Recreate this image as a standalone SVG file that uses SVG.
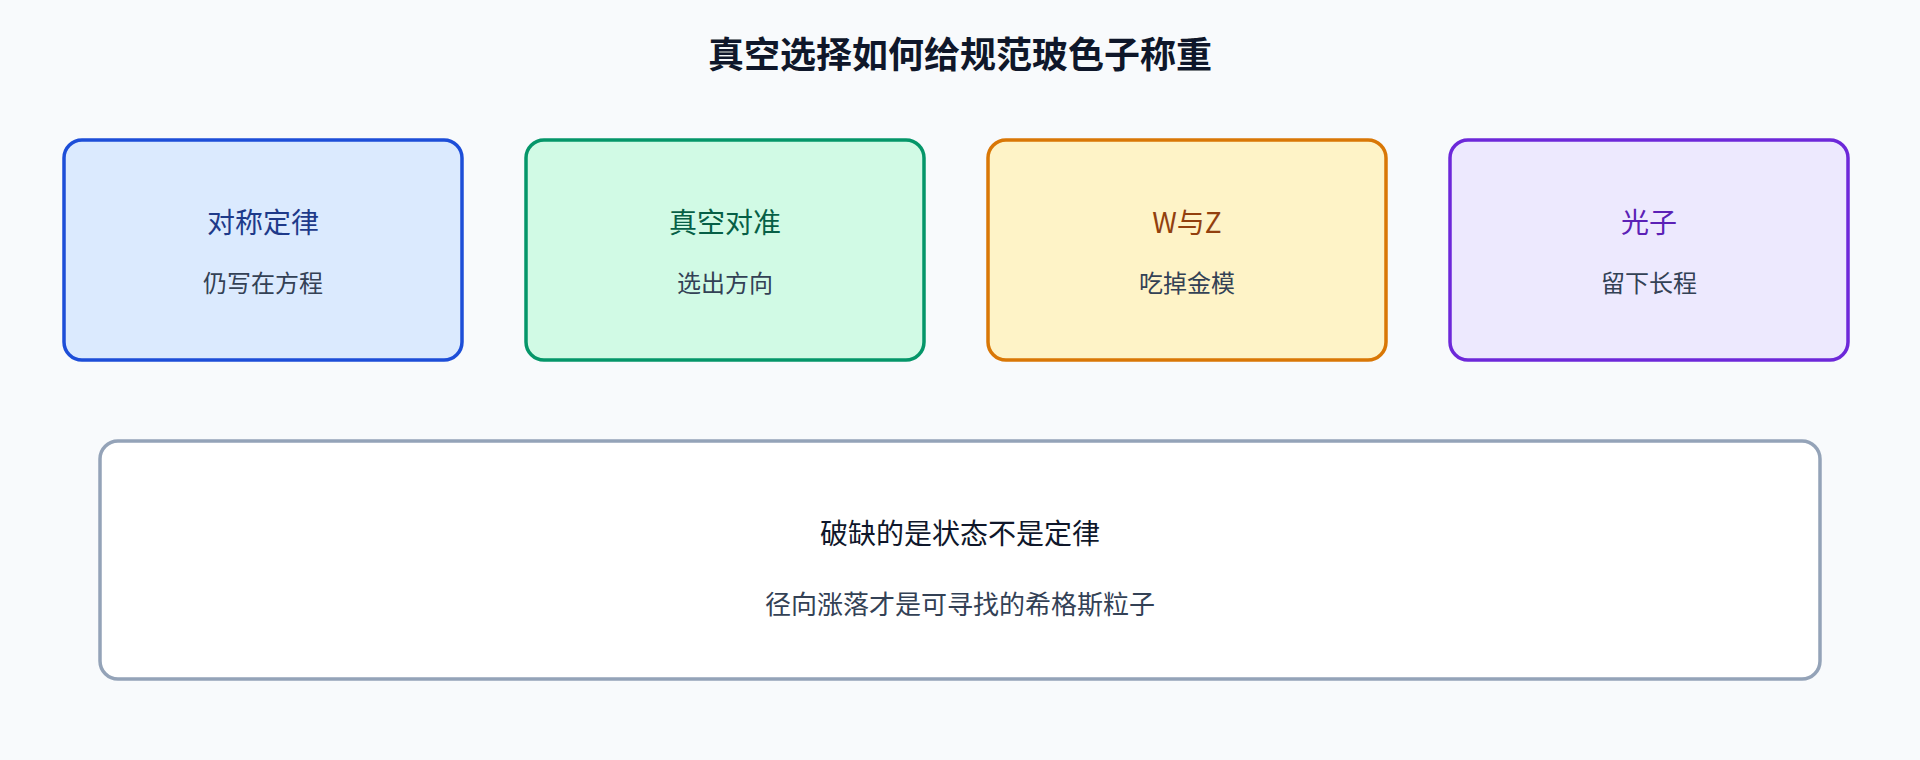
<svg xmlns="http://www.w3.org/2000/svg" width="1920" height="760" viewBox="0 0 1920 760">
<style>
text{font-family:"Noto Sans CJK SC","Noto Sans",sans-serif;text-anchor:middle;dominant-baseline:central}
.title{font-size:36px;font-weight:700;fill:#0f172a}
.box{stroke-width:3.5}
.h{font-size:28px}
.s{font-size:24px;fill:#334155}
.b1{fill:#dbeafe;stroke:#1d4ed8}
.b2{fill:#d1fae5;stroke:#059669}
.b3{fill:#fef3c7;stroke:#d97706}
.b4{fill:#ede9fe;stroke:#6d28d9}
</style>
<rect width="1920" height="760" fill="#f8fafc"/>
<text class="title" x="960" y="52">真空选择如何给规范玻色子称重</text>
<g id="connectors"></g>
<g id="node-symmetry">
<rect class="box b1" x="64" y="140" width="398" height="220" rx="18"/>
<text class="h" x="263" y="221" fill="#1e3a8a">对称定律</text>
<text class="s" x="263" y="281">仍写在方程</text>
</g>
<g id="node-vacuum">
<rect class="box b2" x="526" y="140" width="398" height="220" rx="18"/>
<text class="h" x="725" y="221" fill="#065f46">真空对准</text>
<text class="s" x="725" y="281">选出方向</text>
</g>
<g id="node-wz">
<rect class="box b3" x="988" y="140" width="398" height="220" rx="18"/>
<text class="h" x="1187" y="221" fill="#92400e">W与Z</text>
<text class="s" x="1187" y="281">吃掉金模</text>
</g>
<g id="node-photon">
<rect class="box b4" x="1450" y="140" width="398" height="220" rx="18"/>
<text class="h" x="1649" y="221" fill="#5b21b6">光子</text>
<text class="s" x="1649" y="281">留下长程</text>
</g>
<g id="node-summary">
<rect x="100" y="441" width="1720" height="238" rx="18" fill="#ffffff" stroke="#94a3b8" stroke-width="3.5"/>
<text x="960" y="532" font-size="28" fill="#0f172a">破缺的是状态不是定律</text>
<text x="960" y="602" font-size="26" fill="#334155">径向涨落才是可寻找的希格斯粒子</text>
</g>
</svg>
